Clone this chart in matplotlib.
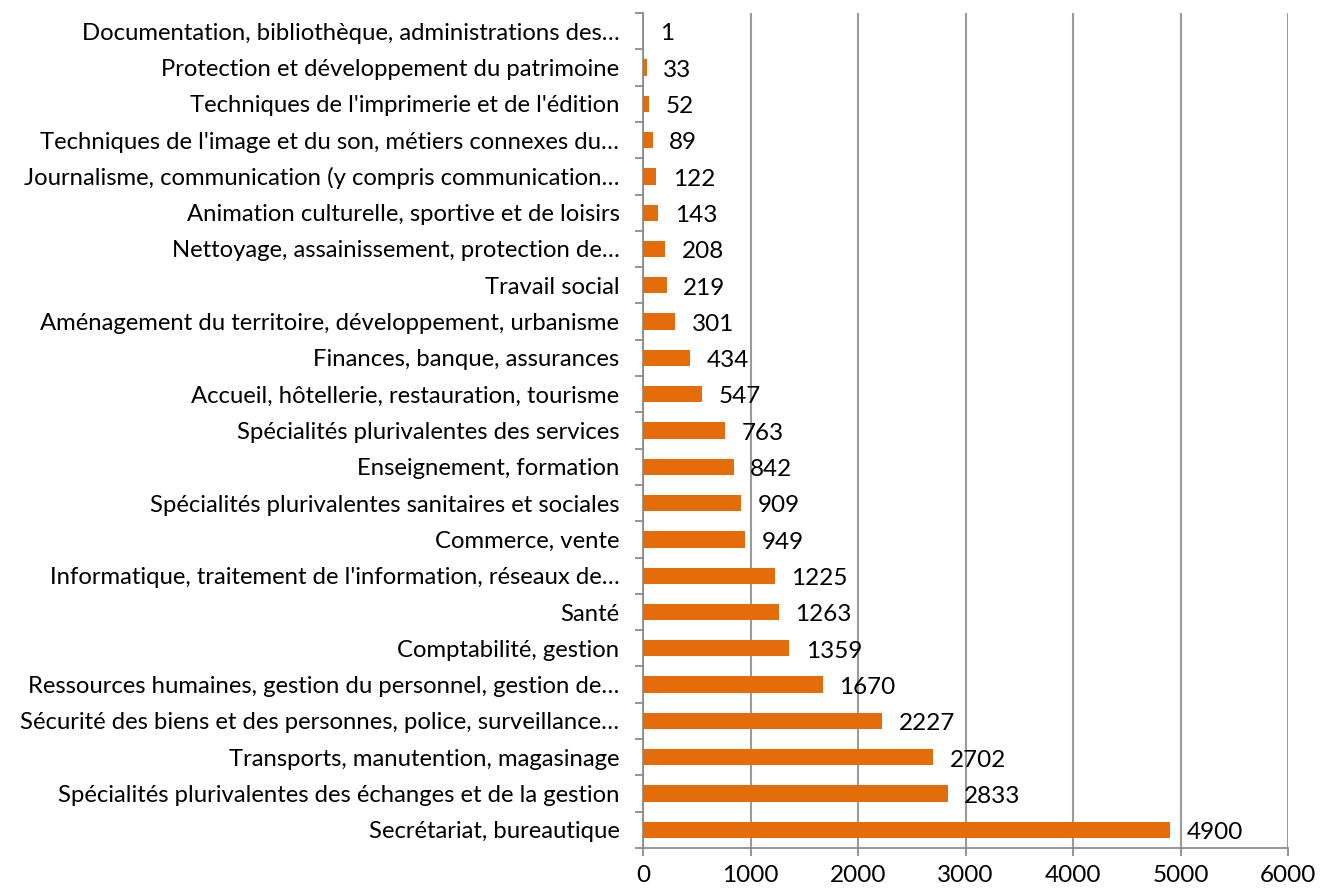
import matplotlib
matplotlib.use("Agg")
import matplotlib.pyplot as plt
from matplotlib.ticker import FixedLocator

plt.rcParams['font.family'] = ['Lato', 'DejaVu Sans']

categories = [
    "Secrétariat, bureautique",
    "Spécialités plurivalentes des échanges et de la gestion",
    "Transports, manutention, magasinage",
    "Sécurité des biens et des personnes, police, surveillance…",
    "Ressources humaines, gestion du personnel, gestion de…",
    "Comptabilité, gestion",
    "Santé",
    "Informatique, traitement de l'information, réseaux de…",
    "Commerce, vente",
    "Spécialités plurivalentes sanitaires et sociales",
    "Enseignement, formation",
    "Spécialités plurivalentes des services",
    "Accueil, hôtellerie, restauration, tourisme",
    "Finances, banque, assurances",
    "Aménagement du territoire, développement, urbanisme",
    "Travail social",
    "Nettoyage, assainissement, protection de…",
    "Animation culturelle, sportive et de loisirs",
    "Journalisme, communication (y compris communication…",
    "Techniques de l'image et du son, métiers connexes du…",
    "Techniques de l'imprimerie et de l'édition",
    "Protection et développement du patrimoine",
    "Documentation, bibliothèque, administrations des…",
]
values = [4900, 2833, 2702, 2227, 1670, 1359, 1263, 1225, 949, 909, 842,
          763, 547, 434, 301, 219, 208, 143, 122, 89, 52, 33, 1]
xticks = [0, 1000, 2000, 3000, 4000, 5000, 6000]

fig = plt.figure(figsize=(13.2, 8.92), dpi=100)
ax = fig.add_axes([643/1320, 1-848/892, (1288-643)/1320, (848-13)/892])

pos = list(range(len(categories)))
ax.barh(pos, values, height=0.45, color='#E46C0A', zorder=3)
for p, v in zip(pos, values):
    ax.annotate(str(v), (v, p), xytext=(12, -2), textcoords='offset points',
                ha='left', va='center', fontsize=17.5, color='black')

ax.set_xlim(0, 6000)
ax.set_ylim(-0.5, len(categories)-0.5)
ax.set_xticks(xticks)
ax.set_xticklabels([str(t) for t in xticks], fontsize=17.5)
ax.set_yticks(pos)
ax.set_yticklabels(categories, fontsize=17.2)
ax.yaxis.set_minor_locator(FixedLocator([i-0.5 for i in range(len(categories)+1)]))
ax.tick_params(axis='y', which='major', length=0, pad=17)
ax.tick_params(axis='y', which='minor', length=6, color='#8c8c8c', width=1.3)
ax.tick_params(axis='x', which='major', length=6, color='#8c8c8c', width=1.3, pad=6)
ax.grid(axis='x', color='#9a9a9a', linewidth=1.5, zorder=0)
for s in ['top', 'right']:
    ax.spines[s].set_visible(False)
for s in ['left', 'bottom']:
    ax.spines[s].set_color('#8c8c8c')
    ax.spines[s].set_linewidth(1.3)

fig.savefig('out.png', dpi=100)
